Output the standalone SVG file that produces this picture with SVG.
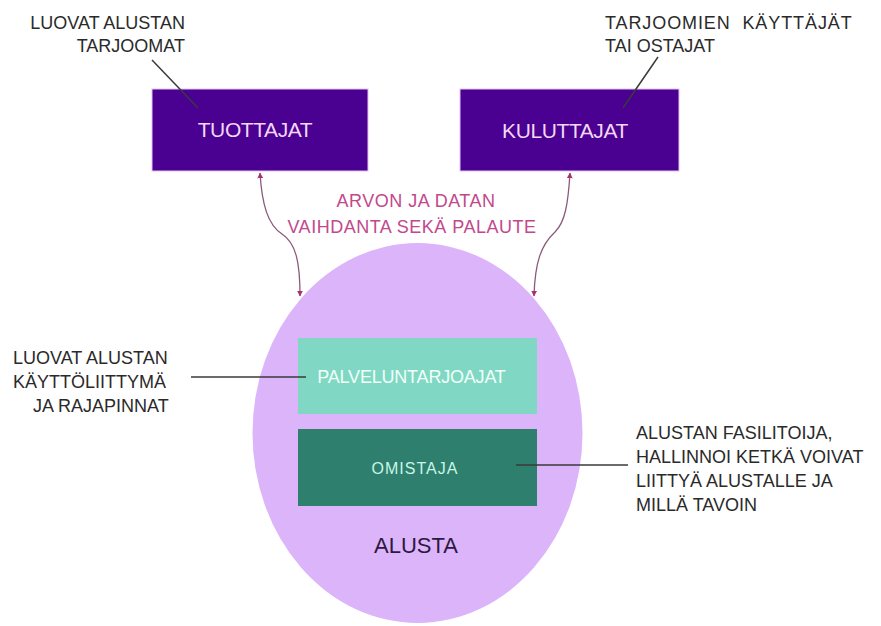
<svg xmlns="http://www.w3.org/2000/svg" width="881" height="626" viewBox="0 0 881 626">
  <defs>
    <style>
      .lbl { font-family: "Liberation Sans", Arial, sans-serif; font-size: 18px; fill: #2a2a2a; }
      .box { fill: #4a0090; stroke: #e6c0f4; stroke-width: 1; }
      .boxtxt { font-family: "Liberation Sans", Arial, sans-serif; font-size: 21px; fill: #f2d8f6; text-anchor: middle; letter-spacing: -0.4px; }
      .mid { font-family: "Liberation Sans", Arial, sans-serif; font-size: 18px; fill: #c2488c; text-anchor: middle; letter-spacing: 0.5px; }
      .leader { stroke: #3a3a3a; stroke-width: 1.5; fill: none; }
      .flow { stroke: #8a5a78; stroke-width: 1.3; fill: none; marker-start: url(#arrS); marker-end: url(#arrE); }
    </style>
    <marker id="arrE" viewBox="0 0 10 10" refX="9" refY="5" markerWidth="6" markerHeight="6" orient="auto" markerUnits="userSpaceOnUse">
      <path d="M0,0 L10,5 L0,10 Z" fill="#a8306e"/>
    </marker>
    <marker id="arrS" viewBox="0 0 10 10" refX="1" refY="5" markerWidth="6" markerHeight="6" orient="auto" markerUnits="userSpaceOnUse">
      <path d="M10,0 L0,5 L10,10 Z" fill="#a8306e"/>
    </marker>
  </defs>
  <rect width="881" height="626" fill="#ffffff"/>

  <g id="alusta">
    <ellipse cx="417.5" cy="433" rx="165" ry="190" fill="#dcb4fa"/>
    <text x="416" y="553" font-family="Liberation Sans, Arial, sans-serif" font-size="22" fill="#2d1842" text-anchor="middle">ALUSTA</text>
  </g>

  <g id="tuottajat">
    <rect class="box" x="152" y="89" width="216" height="82"/>
    <text class="boxtxt" x="255" y="137">TUOTTAJAT</text>
  </g>

  <g id="kuluttajat">
    <rect class="box" x="460" y="89" width="219" height="82"/>
    <text class="boxtxt" x="565" y="138">KULUTTAJAT</text>
  </g>

  <g id="palveluntarjoajat">
    <rect x="298" y="338" width="239" height="76" fill="#80d8c4"/>
    <text x="411.5" y="383" font-family="Liberation Sans, Arial, sans-serif" font-size="18" fill="#f0fff8" text-anchor="middle" letter-spacing="-0.2">PALVELUNTARJOAJAT</text>
  </g>

  <g id="omistaja">
    <rect x="298" y="429" width="239" height="77" fill="#2e7f6e"/>
    <text x="415" y="474" font-family="Liberation Sans, Arial, sans-serif" font-size="16" fill="#c8f6e6" text-anchor="middle" letter-spacing="1">OMISTAJA</text>
  </g>

  <g id="label-tuottajat">
    <text class="lbl" x="185" y="29" text-anchor="end" font-size="19">LUOVAT ALUSTAN</text>
    <text class="lbl" x="185" y="52" text-anchor="end">TARJOOMAT</text>
  </g>

  <g id="label-kuluttajat">
    <text class="lbl" x="605" y="29" letter-spacing="0.9" xml:space="preserve">TARJOOMIEN  KÄYTTÄJÄT</text>
    <text class="lbl" x="605" y="52">TAI OSTAJAT</text>
  </g>

  <g id="label-flow">
    <text class="mid" x="416" y="207">ARVON JA DATAN</text>
    <text class="mid" x="412" y="233">VAIHDANTA SEKÄ PALAUTE</text>
  </g>

  <g id="label-palvelu">
    <text class="lbl" x="13" y="364">LUOVAT ALUSTAN</text>
    <text class="lbl" x="13" y="388">KÄYTTÖLIITTYMÄ</text>
    <text class="lbl" x="33" y="412">JA RAJAPINNAT</text>
  </g>

  <g id="label-omistaja">
    <text class="lbl" x="636" y="439">ALUSTAN FASILITOIJA,</text>
    <text class="lbl" x="636" y="463">HALLINNOI KETKÄ VOIVAT</text>
    <text class="lbl" x="636" y="487">LIITTYÄ ALUSTALLE JA</text>
    <text class="lbl" x="636" y="511">MILLÄ TAVOIN</text>
  </g>

  <g id="connectors">
    <path class="flow" d="M260,173 C262,205 268,225 282,234 C296,243 300,262 300,296"/>
    <path class="flow" d="M570,173 C568,205 565,222 555,232 C541,245 535,262 534,296"/>
    <line class="leader" x1="152" y1="60" x2="198" y2="108"/>
    <line class="leader" x1="658" y1="57" x2="623" y2="108"/>
    <line class="leader" x1="191" y1="377" x2="306" y2="377"/>
    <line class="leader" x1="516" y1="465" x2="628" y2="465"/>
  </g>
</svg>
